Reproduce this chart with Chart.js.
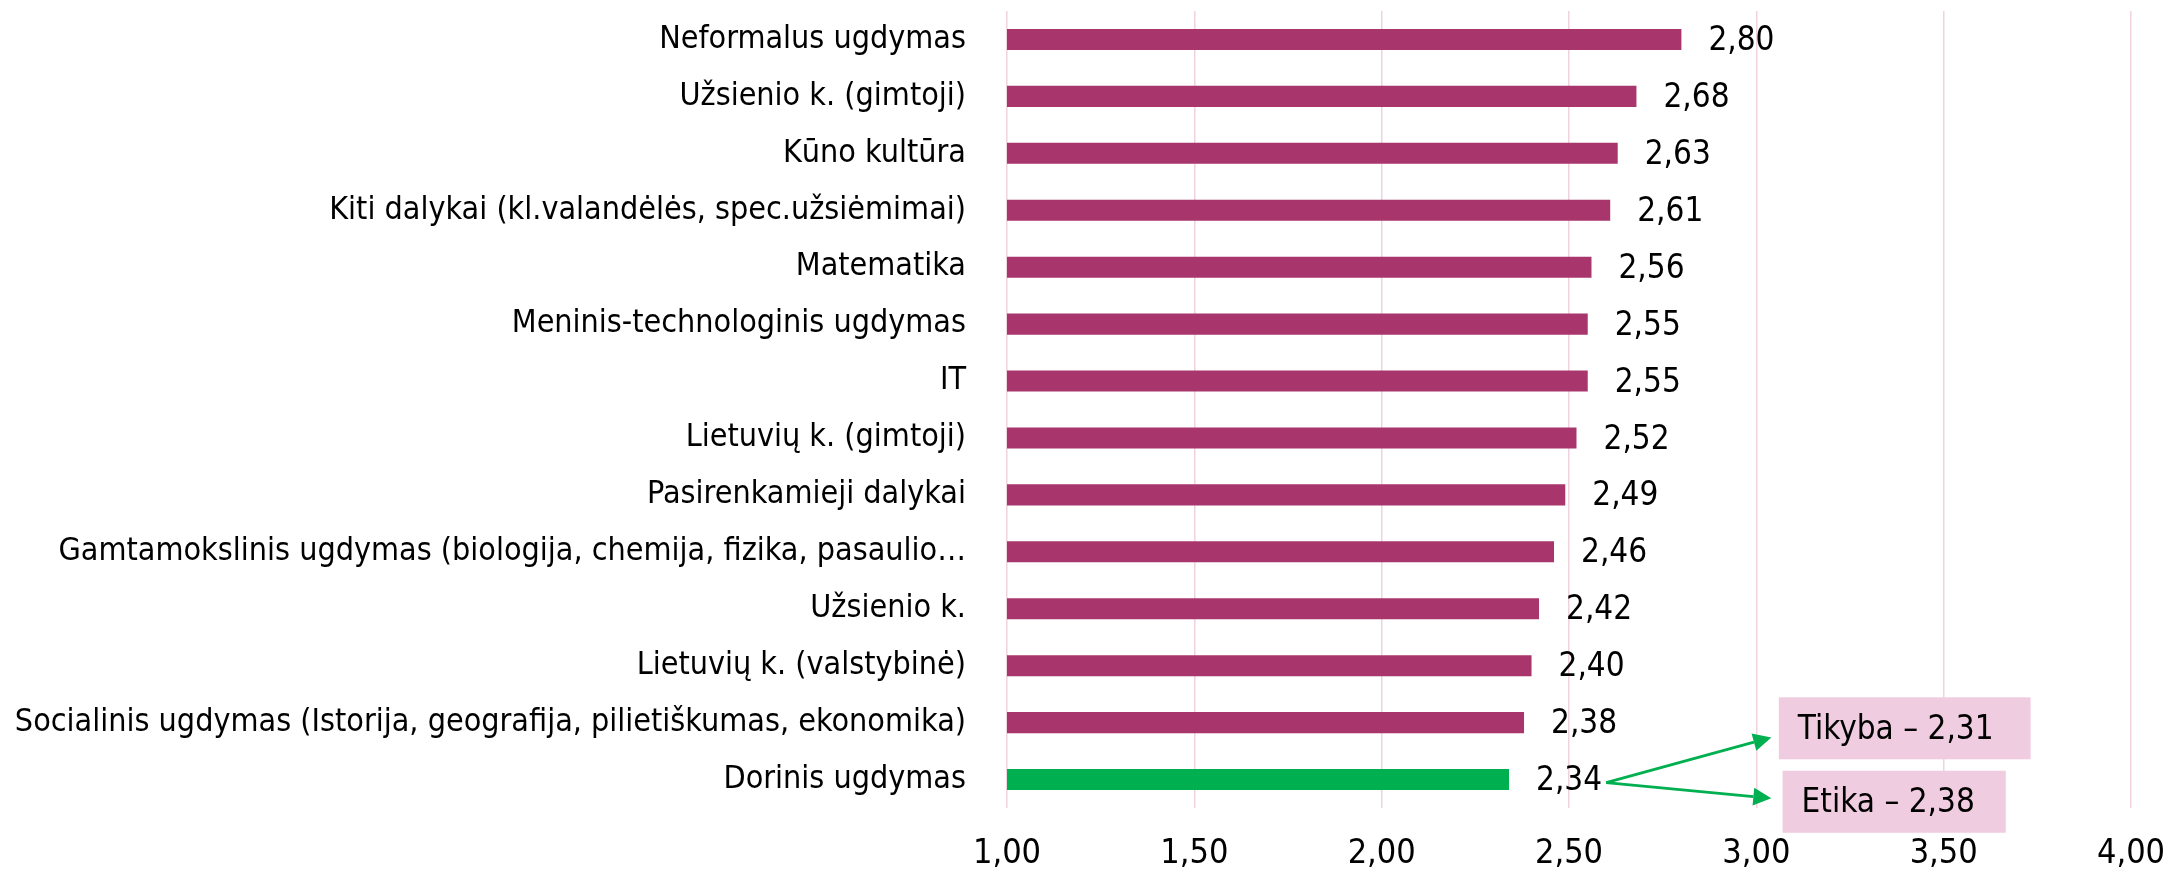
<!DOCTYPE html>
<html><head><meta charset="utf-8">
<script src="https://cdn.jsdelivr.net/npm/chart.js@4/dist/chart.umd.min.js"></script>
<style>html,body{margin:0;padding:0;background:#fff;overflow:hidden}#wrap{width:2173px;height:875px;position:relative}</style>
</head><body><div id="wrap"><canvas id="c"></canvas></div>
<script>
const categories = [
  'Neformalus ugdymas',
  'Užsienio k. (gimtoji)',
  'Kūno kultūra',
  'Kiti dalykai (kl.valandėlės, spec.užsiėmimai)',
  'Matematika',
  'Meninis-technologinis ugdymas',
  'IT',
  'Lietuvių k. (gimtoji)',
  'Pasirenkamieji dalykai',
  'Gamtamokslinis ugdymas (biologija, chemija, fizika, pasaulio…',
  'Užsienio k.',
  'Lietuvių k. (valstybinė)',
  'Socialinis ugdymas (Istorija, geografija, pilietiškumas, ekonomika)',
  'Dorinis ugdymas'
];
const values = [2.80, 2.68, 2.63, 2.61, 2.56, 2.55, 2.55, 2.52, 2.49, 2.46, 2.42, 2.40, 2.38, 2.34];
const xTickValues = [1.00, 1.50, 2.00, 2.50, 3.00, 3.50, 4.00];
const highlightCategory = 'Dorinis ugdymas';
const breakdownLabels = ['Tikyba', 'Etika'];
const breakdownValues = [2.31, 2.38];

const FONT = '"Liberation Sans Narrow", "DejaVu Sans Condensed", "Liberation Sans", sans-serif';
const MAGENTA = '#A8366C';
const GREEN = '#00B050';
const GRID = '#F0D2E1';
const BOXFILL = '#EFCCDF';
const fmt = v => v.toFixed(2).replace('.', ',');
const hiIndex = categories.indexOf(highlightCategory);

const valueFont = '33px ' + FONT;
const valueLabels = {
  id: 'valueLabels',
  afterDatasetsDraw(chart) {
    const ctx = chart.ctx;
    const meta = chart.getDatasetMeta(0);
    ctx.save();
    ctx.font = valueFont;
    ctx.fillStyle = '#000';
    ctx.textAlign = 'left';
    ctx.textBaseline = 'middle';
    meta.data.forEach((bar, i) => ctx.fillText(fmt(values[i]), bar.x + 27, bar.y + 2));
    ctx.restore();
  }
};

const breakdown = {
  id: 'breakdown',
  afterDraw(chart) {
    const ctx = chart.ctx;
    const xs = chart.scales.x;
    const bar = chart.getDatasetMeta(0).data[hiIndex];
    const band = chart.scales.y.getPixelForValue(1) - chart.scales.y.getPixelForValue(0);
    ctx.save();
    ctx.font = valueFont;
    const sx = bar.x + 27 + ctx.measureText(fmt(values[hiIndex])).width + 4;
    const sy = bar.y + 3;
    const cfg = [
      { boxX: 3.06, boxDy: -0.90, tipX: 3.04, tipDy: -0.74 },
      { boxX: 3.07, boxDy: 0.39, tipX: 3.04, tipDy: 0.33 }
    ];
    const annFont = '33px ' + FONT;
    breakdownLabels.forEach((lab, i) => {
      const c = cfg[i];
      const text = lab + ' – ' + fmt(breakdownValues[i]);
      ctx.font = annFont;
      const tw = ctx.measureText(text).width;
      const bx = xs.getPixelForValue(c.boxX);
      const bcy = bar.y + c.boxDy * band;
      const bw = tw + 19 + (i === 0 ? 37 : 31), bh = 62;
      ctx.fillStyle = BOXFILL;
      ctx.fillRect(bx, bcy - bh / 2, bw, bh);
      ctx.fillStyle = '#000';
      ctx.textAlign = 'left';
      ctx.textBaseline = 'middle';
      ctx.fillText(text, bx + 19, bcy + 2);
      // arrow
      const tx = xs.getPixelForValue(c.tipX);
      const ty = bar.y + c.tipDy * band;
      const ang = Math.atan2(ty - sy, tx - sx);
      const hl = 18, hw = 9;
      const lx = tx - hl * Math.cos(ang), ly = ty - hl * Math.sin(ang);
      ctx.strokeStyle = GREEN;
      ctx.lineWidth = 2.8;
      ctx.beginPath();
      ctx.moveTo(sx, sy);
      ctx.lineTo(lx, ly);
      ctx.stroke();
      ctx.fillStyle = GREEN;
      ctx.beginPath();
      ctx.moveTo(tx, ty);
      ctx.lineTo(lx + hw * Math.sin(ang), ly - hw * Math.cos(ang));
      ctx.lineTo(lx - hw * Math.sin(ang), ly + hw * Math.cos(ang));
      ctx.closePath();
      ctx.fill();
    });
    ctx.restore();
  }
};

new Chart(document.getElementById('c'), {
  type: 'bar',
  data: {
    labels: categories,
    datasets: [{
      data: values,
      backgroundColor: categories.map((c, i) => i === hiIndex ? GREEN : MAGENTA),
      borderWidth: 0,
      barPercentage: 0.37,
      categoryPercentage: 1.0
    }]
  },
  options: {
    indexAxis: 'y',
    responsive: true,
    maintainAspectRatio: false,
    animation: false,
    devicePixelRatio: 1,
    layout: { padding: { top: 11, right: 42, left: 0, bottom: 0 } },
    plugins: { legend: { display: false }, tooltip: { enabled: false } },
    scales: {
      x: {
        type: 'linear',
        min: 1, max: 4,
        afterBuildTicks: s => { s.ticks = xTickValues.map(v => ({ value: v })); },
        afterFit: s => { s.height = 67; s.paddingLeft = 0; s.paddingRight = 0; },
        grid: { color: GRID, lineWidth: 1.5, drawTicks: false },
        border: { display: false },
        ticks: { callback: v => fmt(v), color: '#000', font: { family: FONT, size: 34 }, padding: 26, maxRotation: 0 }
      },
      y: {
        afterFit: s => { s.width = 1007; s.paddingTop = 0; s.paddingBottom = 0; },
        grid: { display: false, drawTicks: false },
        border: { display: false },
        ticks: { color: '#000', font: { family: FONT, size: 32 }, padding: 41, autoSkip: false }
      }
    }
  },
  plugins: [valueLabels, breakdown]
});
</script>
</body></html>
